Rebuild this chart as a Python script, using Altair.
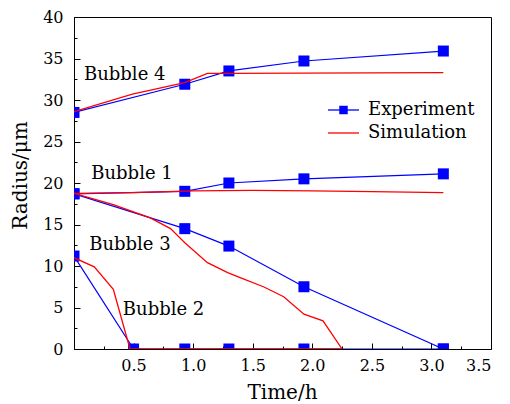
import altair as alt
import pandas as pd

# ---------------- data ----------------
exp_t = [0.0, 0.93, 1.30, 1.93, 3.10]
exp_b4 = [28.5, 31.9, 33.5, 34.7, 35.9]
exp_b1 = [18.7, 19.0, 20.0, 20.5, 21.1]
exp_b3 = [18.7, 14.5, 12.4, 7.5, 0.0]
exp_b2_t = [0.0, 0.50, 0.93, 1.30, 1.93, 3.10]
exp_b2 = [11.2, 0.0, 0.0, 0.0, 0.0, 0.0]

sim_b4_t = [0.0, 0.49, 0.93, 1.12, 1.30, 3.10]
sim_b4 = [28.6, 30.7, 32.1, 33.2, 33.2, 33.3]
sim_b1_t = [0.0, 0.5, 1.0, 1.5, 2.0, 2.5, 3.10]
sim_b1 = [18.75, 18.85, 19.05, 19.1, 19.05, 18.95, 18.85]
sim_b3_t = [0.0, 0.33, 0.64, 0.81, 0.93, 1.12, 1.29, 1.41, 1.59, 1.76, 1.93, 2.09, 2.25]
sim_b3 = [18.75, 17.4, 15.8, 14.5, 12.8, 10.4, 9.2, 8.5, 7.5, 6.3, 4.2, 3.4, 0.0]
sim_b2_t = [0.0, 0.17, 0.33, 0.47, 2.25]
sim_b2 = [11.0, 9.9, 7.2, 0.0, 0.0]

label_text = ["Bubble 4", "Bubble 1", "Bubble 3", "Bubble 2"]
label_t = [0.084, 0.145, 0.128, 0.41]
label_r = [33.0, 21.1, 12.5, 4.7]

x_major = [0.5, 1.0, 1.5, 2.0, 2.5, 3.0, 3.5]
x_minor = [0.25, 0.75, 1.25, 1.75, 2.25, 2.75, 3.25]
y_major = [0, 5, 10, 15, 20, 25, 30, 35, 40]
y_minor = [2.5, 7.5, 12.5, 17.5, 22.5, 27.5, 32.5, 37.5]

series_names = ["Experiment", "Simulation"]
series_colors = ["#0000ff", "#ff0000"]

# ---------------- tables ----------------
rows = []
for name, ts, rs in [("Bubble 4", exp_t, exp_b4), ("Bubble 1", exp_t, exp_b1),
                     ("Bubble 3", exp_t, exp_b3), ("Bubble 2", exp_b2_t, exp_b2)]:
    for t, r in zip(ts, rs):
        rows.append({"t": t, "r": r, "bubble": name, "series": "Experiment"})
for name, ts, rs in [("Bubble 4", sim_b4_t, sim_b4), ("Bubble 1", sim_b1_t, sim_b1),
                     ("Bubble 3", sim_b3_t, sim_b3), ("Bubble 2", sim_b2_t, sim_b2)]:
    for t, r in zip(ts, rs):
        rows.append({"t": t, "r": r, "bubble": name, "series": "Simulation"})
df = pd.DataFrame(rows)
exp_df = df[df.series == "Experiment"]
sim_df = df[df.series == "Simulation"]
lab_df = pd.DataFrame({"text": label_text, "t": label_t, "r": label_r})

FONT = "DejaVu Serif"
xscale = alt.Scale(domain=[0, 3.5], nice=False, zero=False)
yscale = alt.Scale(domain=[0, 40], nice=False, zero=False)

x_axis = alt.Axis(values=x_major, format=".1f", tickSize={"expr": "-6"}, labelPadding=14,
                  title="Time/h", titleX=208, titleY=43, titleBaseline="middle",
                  orient="bottom", grid=False)
y_axis = alt.Axis(values=y_major, format="d", tickSize={"expr": "-6"}, labelPadding=17,
                  title="Radius/μm", titleX=-54, titleY=158, titleBaseline="middle",
                  orient="left", grid=False)

X = alt.X("t:Q", scale=xscale, axis=x_axis)
Y = alt.Y("r:Q", scale=yscale, axis=y_axis)

LEG_X, LEG_Y = 245.5, 84

color_enc = alt.Color("series:N",
                      scale=alt.Scale(domain=series_names, range=series_colors),
                      legend=alt.Legend(title=None, orient="none", legendX=LEG_X, legendY=LEG_Y,
                                        symbolType="M-3.1,0H3.1", symbolSize=100,
                                        symbolStrokeWidth=1.3, symbolOffset=15,
                                        labelOffset=15.5, labelFont=FONT, labelFontSize=18,
                                        labelColor="black", rowPadding=5, padding=0))

exp_lines = alt.Chart(exp_df).mark_line(strokeWidth=1.2, clip=True).encode(
    x=X, y=Y, color=color_enc, detail="bubble:N")
exp_pts = alt.Chart(exp_df).mark_point(filled=True, size=121, opacity=1, clip=True,
                                       color="#0000ff").encode(
    x=X, y=Y,
    shape=alt.Shape("series:N", scale=alt.Scale(domain=["Experiment"], range=["square"]),
                    legend=alt.Legend(title=None, orient="none", legendX=LEG_X, legendY=LEG_Y,
                                      symbolSize=72, symbolOffset=15, symbolStrokeWidth=0,
                                      symbolFillColor="#0000ff",
                                      labelOffset=15.5, labelFont=FONT, labelFontSize=18,
                                      labelColor="black", labelOpacity=0,
                                      rowPadding=5, padding=0)))
sim_lines = alt.Chart(sim_df).mark_line(strokeWidth=1.3, clip=True).encode(
    x=X, y=Y, color=color_enc, detail="bubble:N")
labels = alt.Chart(lab_df).mark_text(align="left", baseline="middle", font=FONT,
                                     fontSize=18, color="black").encode(
    x=alt.X("t:Q", scale=xscale), y=alt.Y("r:Q", scale=yscale), text="text:N")

main = alt.layer(exp_lines, exp_pts, sim_lines, labels)

minor = alt.Chart(exp_df).mark_point(opacity=0).encode(
    x=alt.X("t:Q", scale=xscale,
            axis=alt.Axis(values=x_minor, labels=False, domain=False, grid=False,
                          tickSize={"expr": "-3"}, title=None, orient="bottom")),
    y=alt.Y("r:Q", scale=yscale,
            axis=alt.Axis(values=y_minor, labels=False, domain=False, grid=False,
                          tickSize={"expr": "-3"}, title=None, orient="left")))

chart = alt.layer(main, minor).resolve_axis(x="independent", y="independent").properties(
    width=417, height=332,
    autosize=alt.AutoSizeParams(type="none"),
    padding={"left": 74, "top": 17, "right": 19, "bottom": 55},
    background="white",
).configure_view(stroke="black", strokeWidth=1).configure_axis(
    labelFont=FONT, labelFontSize=16, labelColor="black",
    titleFont=FONT, titleFontSize=20, titleFontWeight="normal", titleColor="black",
    domainColor="black", tickColor="black", tickWidth=1, domainWidth=1,
)

chart.save("out.html", embed_options={"renderer": "svg", "actions": False})
